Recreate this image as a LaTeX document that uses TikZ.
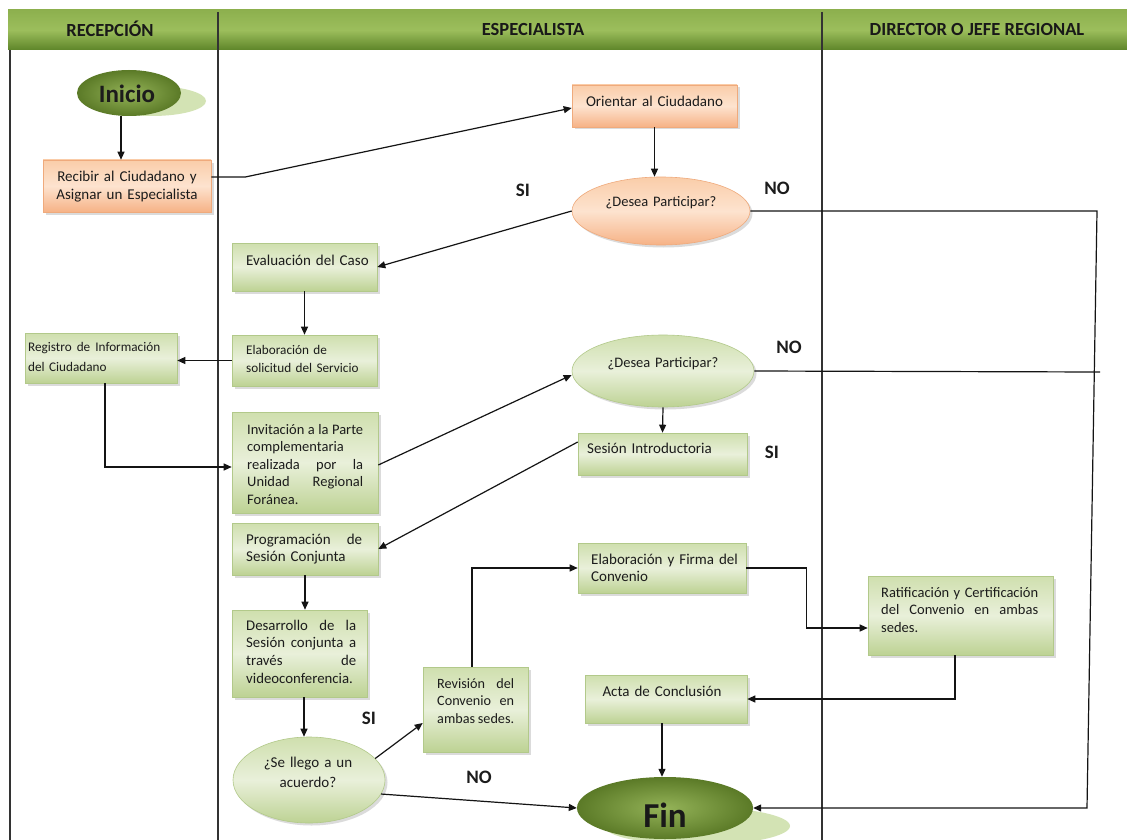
\documentclass[tikz,border=0pt]{standalone}
\usepackage{fontspec}
\setmainfont{Carlito}
\usetikzlibrary{arrows.meta,shapes.geometric,shadows}

\definecolor{hdrTop}{HTML}{8DB04E}
\definecolor{hdrMid}{HTML}{9CBE5C}
\definecolor{hdrBot}{HTML}{5E8529}
\definecolor{laneC}{HTML}{333333}
\definecolor{lineC}{HTML}{141414}
\definecolor{txtC}{HTML}{1C1C1C}
\definecolor{gTop}{HTML}{CFDFAE}
\definecolor{gMid}{HTML}{E9F0DA}
\definecolor{gBot}{HTML}{BDD293}
\definecolor{gEdge}{HTML}{B2C98A}
\definecolor{oTop}{HTML}{FACDA9}
\definecolor{oMid}{HTML}{FDE3CF}
\definecolor{oBot}{HTML}{F6B286}
\definecolor{oEdge}{HTML}{EFAA7C}
\definecolor{dIn}{HTML}{94B358}
\definecolor{dOut}{HTML}{5B7A27}
\definecolor{dShade}{HTML}{D3E3B4}

\newcommand{\jline}[2]{\leavevmode\hbox to #1{#2}}

\tikzset{
  bshadow/.style={drop shadow={shadow xshift=2.5pt,shadow yshift=-2.5pt,fill=black!28}},
  gbox/.style={rectangle, inner sep=0pt, draw=gEdge, line width=0.6pt, top color=gTop, bottom color=gBot, middle color=gMid, bshadow},
  obox/.style={rectangle, inner sep=0pt, draw=oEdge, line width=0.6pt, top color=oTop, bottom color=oBot, middle color=oMid, bshadow},
  gell/.style={ellipse, inner sep=0pt, draw=gEdge, line width=0.6pt, top color=gTop, bottom color=gBot, middle color=gMid, bshadow},
  oell/.style={ellipse, inner sep=0pt, draw=oEdge, line width=0.6pt, top color=oTop, bottom color=oBot, middle color=oMid, bshadow},
  dell/.style={ellipse, inner sep=0pt, inner color=dIn, outer color=dOut},
  dsh/.style={ellipse, inner sep=0pt, fill=dShade},
  txt/.style={inner sep=0pt, text=txtC, anchor=base west, align=left, text width=200pt, font=\fontsize{15}{17.5}\selectfont},
  ctxt/.style={inner sep=0pt, text=txtC, anchor=base, align=center, font=\fontsize{15}{18}\selectfont},
  lbl/.style={inner sep=0pt, text=txtC, font=\bfseries\fontsize{19}{19}\selectfont},
  hdr/.style={inner sep=0pt, text=black!90, font=\bfseries\fontsize{18.5}{18.5}\selectfont},
  lane/.style={draw=laneC, line width=1.1pt},
  arr/.style={draw=lineC, line width=1.2pt, -{Triangle[length=8pt,width=7pt]}},
  ln/.style={draw=lineC, line width=1.2pt},
}

\begin{document}
\begin{tikzpicture}[x=1pt,y=-1pt]
\useasboundingbox (0,0) rectangle (1127,840);
\clip (0,0) rectangle (1127,840);
\fill[white] (0,0) rectangle (1127,840);

% header band
\shade[top color=hdrTop, bottom color=hdrBot, middle color=hdrMid] (8,10) rectangle (1127,50);
\node[hdr] (h1) at (110,29) {RECEPCIÓN};
\node[hdr] (h2) at (533,29) {ESPECIALISTA};
\node[hdr] (h3) at (977,29) {DIRECTOR O JEFE REGIONAL};

% lanes
\draw[lane] (10,50) -- (10,840);
\draw[lane] (218,12) -- (218,840);
\draw[lane] (822,12) -- (822,840);

% terminal shadows
\node[dsh, minimum width=108pt, minimum height=30pt] (inicioSh) at (152,101) {};
\node[dsh, minimum width=186pt, minimum height=38pt] (finSh) at (697,826) {};

% shapes
\node[dell, minimum width=104pt, minimum height=46pt] (inicio) at (129,93) {};
\node[obox, minimum width=168pt, minimum height=52pt] (recibir) at (127,186) {};
\node[obox, minimum width=165pt, minimum height=42pt] (orientar) at (654.5,106) {};
\node[oell, minimum width=178pt, minimum height=68pt] (desea1) at (661,211) {};
\node[gbox, minimum width=145pt, minimum height=48pt] (evaluacion) at (304.5,267) {};
\node[gbox, minimum width=145pt, minimum height=51pt] (elaboracion) at (304.5,360.5) {};
\node[gbox, minimum width=152pt, minimum height=50pt] (registro) at (101,358) {};
\node[gbox, minimum width=146pt, minimum height=101pt] (invitacion) at (305,462.5) {};
\node[gell, minimum width=182pt, minimum height=72pt] (desea2) at (663,371) {};
\node[gbox, minimum width=169pt, minimum height=42pt] (sesionintro) at (662.5,454) {};
\node[gbox, minimum width=146pt, minimum height=52pt] (programacion) at (305,549) {};
\node[gbox, minimum width=135pt, minimum height=87pt] (desarrollo) at (299.5,653.5) {};
\node[gell, minimum width=152pt, minimum height=86pt] (sellego) at (309,780) {};
\node[gbox, minimum width=105pt, minimum height=85pt] (revision) at (475.5,709.5) {};
\node[gbox, minimum width=168pt, minimum height=50pt] (elabfirma) at (662,568) {};
\node[gbox, minimum width=185pt, minimum height=79pt] (ratificacion) at (960.5,615.5) {};
\node[gbox, minimum width=162pt, minimum height=48pt] (acta) at (666,699) {};
\node[dell, minimum width=176pt, minimum height=62pt] (fin) at (665,808) {};

% texts
\node[inner sep=0pt, text=txtC, font=\bfseries\fontsize{25}{25}\selectfont] (inicioT) at (127,94) {Inicio};
\node[inner sep=0pt, text=black!90, font=\bfseries\fontsize{35}{35}\selectfont] (finT) at (665,815) {Fin};
\node[ctxt, text width=168pt] (recibirT) at (127,181) {Recibir al Ciudadano y\\Asignar un Especialista};
\node[ctxt, text width=165pt] (orientarT) at (654.5,107) {Orientar al Ciudadano};
\node[ctxt, text width=178pt, font=\fontsize{14.5}{18}\selectfont] (desea1T) at (661,206) {¿Desea Participar?};
\node[txt] (evaluacionT) at (246,265) {Evaluación del Caso};
\node[txt, font=\fontsize{13.2}{18}\selectfont] (elaboracionT) at (246,354) {Elaboración de\\solicitud del Servicio};
\node[txt, font=\fontsize{13.2}{20}\selectfont] (registroT) at (28,351) {\jline{132pt}{Registro\hfill de\hfill Información}\\del Ciudadano};
\node[txt, font=\fontsize{14.5}{17.5}\selectfont] (invitacionT) at (247,434) {\jline{116pt}{Invitación\hfill a\hfill la\hfill Parte}\\complementaria\\\jline{116pt}{realizada\hfill por\hfill la}\\\jline{116pt}{Unidad\hfill Regional}\\Foránea.};
\node[ctxt, text width=182pt, font=\fontsize{14.5}{18}\selectfont] (desea2T) at (663,367) {¿Desea Participar?};
\node[txt] (sesionintroT) at (587,453) {Sesión Introductoria};
\node[txt] (programacionT) at (246,544) {\jline{116pt}{Programación\hfill de}\\Sesión Conjunta};
\node[txt, font=\fontsize{14.8}{17.7}\selectfont] (desarrolloT) at (246,630) {\jline{110pt}{Desarrollo\hfill de\hfill la}\\\jline{110pt}{Sesión\hfill conjunta\hfill a}\\\jline{110pt}{través\hfill de}\\videoconferencia.};
\node[ctxt, text width=152pt, font=\fontsize{15}{20}\selectfont] (sellegoT) at (308,767) {¿Se llego a un\\acuerdo?};
\node[txt, font=\fontsize{14.2}{17.5}\selectfont] (revisionT) at (437,688) {\jline{77pt}{Revisión\hfill del}\\\jline{77pt}{Convenio\hfill en}\\\jline{77pt}{ambas\hfill sedes.}};
\node[txt, font=\fontsize{15}{17}\selectfont] (elabfirmaT) at (591,564) {Elaboración y Firma del\\Convenio};
\node[txt, font=\fontsize{14.5}{17.5}\selectfont] (ratificacionT) at (881,597) {\jline{157pt}{Ratificación\hfill y\hfill Certificación}\\\jline{157pt}{del\hfill Convenio\hfill en\hfill ambas}\\sedes.};
\node[ctxt, text width=162pt] (actaT) at (662,696) {Acta de Conclusión};

% labels
\node[lbl] (si1) at (523,190) {SI};
\node[lbl] (no1) at (777,188) {NO};
\node[lbl] (no2) at (789,347) {NO};
\node[lbl] (si2) at (772,452) {SI};
\node[lbl] (si3) at (369,718) {SI};
\node[lbl] (no3) at (479,777) {NO};

% connector corner points
\coordinate (topR) at (1097,211);
\coordinate (botR) at (1087,808);
\coordinate (n2end) at (1100,372);

% connectors
\draw[arr] ([xshift=-8pt]inicio.south) -- ([xshift=-6pt]recibir.north);
\draw[arr] ([yshift=9pt]recibir.east) -- ++(34,0) -- ([yshift=-2pt]orientar.west);
\draw[arr] (orientar.south) -- (orientar.south |- desea1.north);
\draw[arr] (desea1.west) -- (evaluacion.east);
\draw[arr] (desea1.east) -- (topR) -- (botR) -- (fin.east);
\draw[arr] (evaluacion.south) -- (elaboracion.north);
\draw[arr] (elaboracion.west) -- (elaboracion.west -| registro.east);
\draw[arr] ([xshift=4pt]registro.south) |- ([yshift=-4.5pt]invitacion.west);
\draw[arr] ([yshift=-2.5pt]invitacion.east) -- ([yshift=-4pt]desea2.west);
\draw[ln] (desea2.east) -- (n2end);
\draw[arr] (desea2.south) -- (sesionintro.north);
\draw[arr] ([yshift=12pt]sesionintro.west) -- (programacion.east);
\draw[arr] (programacion.south) -- (programacion.south |- desarrollo.north);
\draw[arr] ([xshift=4.5pt]desarrollo.south) -- ([xshift=-5pt]sellego.north);
\draw[arr] (sellego.18) -- ([yshift=-13.5pt]revision.west);
\draw[arr] (sellego.-11) -- (fin.west);
\draw[arr] ([xshift=-3.5pt]revision.north) |- (elabfirma.west);
\draw[arr] (elabfirma.east) -- ++(60,0) |- ([yshift=-12.5pt]ratificacion.west);
\draw[arr] ([xshift=-5.5pt]ratificacion.south) |- (acta.east);
\draw[arr] ([xshift=-4pt]acta.south) -- ([xshift=-3pt]fin.north);
\end{tikzpicture}
\end{document}
